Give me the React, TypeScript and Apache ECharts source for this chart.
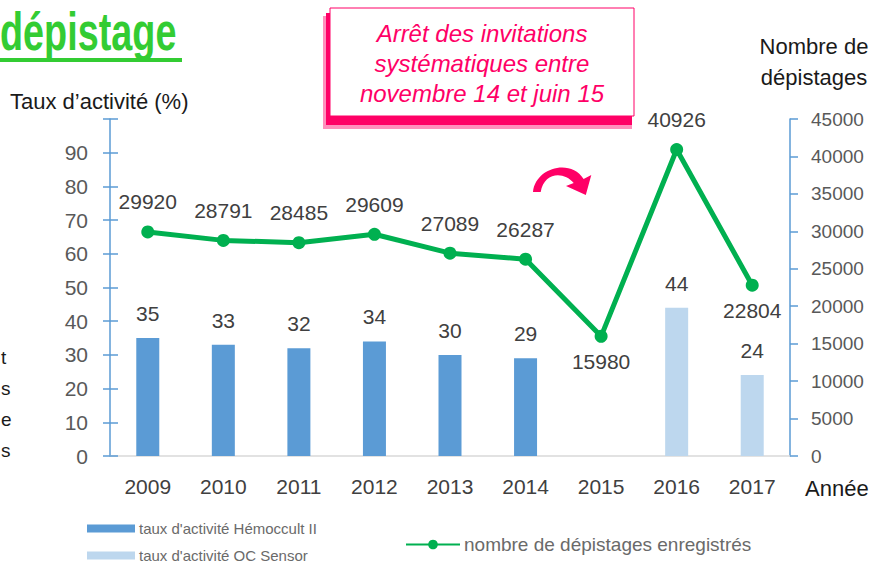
import React, { useEffect, useRef } from "react";
import * as echarts from "echarts";

const years = ["2009", "2010", "2011", "2012", "2013", "2014", "2015", "2016", "2017"];
const hemoccultRates = [35, 33, 32, 34, 30, 29, null, null, null];
const ocSensorRates = [null, null, null, null, null, null, null, 44, 24];
const screeningCounts = [29920, 28791, 28485, 29609, 27089, 26287, 15980, 40926, 22804];
const labelsBelow = ["2015", "2017"];

const seriesNames = ["taux d'activité Hémoccult II", "taux d'activité OC Sensor", "nombre de dépistages enregistrés"];

const leftTicks = { min: 0, max: 100, interval: 10 };
const rightTicks = { min: 0, max: 45000, interval: 5000 };

const arrowPath =
  "M0 30 C2 6 34 -4 46 17 L53 13 L48 33 L30 24 L37 21 C28 9 10 10 7 30 Z";

echarts.graphic.registerShape("curvedArrow", echarts.graphic.extendPath(arrowPath, {}) as any);

const FONT = "'Liberation Sans', Arial, sans-serif";

export default function App() {
  const ref = useRef<HTMLDivElement>(null);
  useEffect(() => {
    if (!ref.current) return;
    const chart = echarts.init(ref.current, null, { renderer: "svg" });
    const blue = "#5B9BD5";
    const txt = "#404040";
    const legendText = { color: "#6a6a6a", fontFamily: FONT, padding: [0, 0, 0, -1] };
    const valueLabel = { show: true, color: txt, fontSize: 21, fontFamily: FONT };
    const option: any = {
      animation: false,
      backgroundColor: "#ffffff",
      textStyle: { fontFamily: FONT },
      grid: { left: 110, right: 84, top: 119, bottom: 111, containLabel: false },
      legend: [
        {
          left: 87,
          top: 521,
          padding: 0,
          itemWidth: 48,
          itemHeight: 8,
          icon: "rect",
          data: [seriesNames[0]],
          textStyle: { ...legendText, fontSize: 15 },
        },
        {
          left: 87,
          top: 548,
          padding: 0,
          itemWidth: 48,
          itemHeight: 8,
          icon: "rect",
          data: [seriesNames[1]],
          textStyle: { ...legendText, fontSize: 15 },
        },
        {
          left: 405,
          top: 535,
          padding: 0,
          itemWidth: 54,
          itemHeight: 12,
          data: [seriesNames[2]],
          textStyle: { ...legendText, fontSize: 19 },
        },
      ],
      xAxis: {
        type: "category",
        data: years,
        axisLine: { show: true, lineStyle: { color: "#d9d9d9", width: 1.5 } },
        axisTick: { show: false },
        axisLabel: { color: txt, fontSize: 21, margin: 20, fontFamily: FONT },
      },
      yAxis: [
        {
          type: "value",
          position: "left",
          ...leftTicks,
          axisLine: { show: true, lineStyle: { color: blue, width: 1.5 } },
          axisTick: { show: true, length: 7, lineStyle: { color: blue, width: 1.5 } },
          splitLine: { show: false },
          axisLabel: {
            color: "#595959",
            fontSize: 21,
            margin: 22,
            fontFamily: FONT,
            formatter: (v: number) => (v === leftTicks.max ? "" : String(v)),
          },
        },
        {
          type: "value",
          position: "right",
          ...rightTicks,
          axisLine: { show: true, lineStyle: { color: blue, width: 1.5 } },
          axisTick: { show: true, length: 8, lineStyle: { color: blue, width: 1.5 } },
          splitLine: { show: false },
          axisLabel: {
            color: "#595959",
            fontSize: 19,
            margin: 21,
            fontFamily: FONT,
            formatter: (v: number) => String(v),
          },
        },
        {
          type: "value",
          position: "left",
          ...leftTicks,
          axisLine: { show: false },
          axisTick: { show: true, inside: true, length: 8, lineStyle: { color: blue, width: 1.5 } },
          splitLine: { show: false },
          axisLabel: { show: false },
        },
      ],
      series: [
        {
          name: seriesNames[0],
          type: "bar",
          stack: "rate",
          yAxisIndex: 0,
          barWidth: 23,
          data: hemoccultRates,
          itemStyle: { color: blue },
          label: { ...valueLabel, position: "top", distance: 14 },
        },
        {
          name: seriesNames[1],
          type: "bar",
          stack: "rate",
          yAxisIndex: 0,
          barWidth: 23,
          data: ocSensorRates,
          itemStyle: { color: "#BDD7EE" },
          label: { ...valueLabel, position: "top", distance: 14 },
        },
        {
          name: seriesNames[2],
          type: "line",
          yAxisIndex: 1,
          symbol: "circle",
          symbolSize: 13,
          lineStyle: { color: "#00B050", width: 5 },
          itemStyle: { color: "#00B050" },
          data: screeningCounts.map((v, i) =>
            labelsBelow.includes(years[i])
              ? { value: v, label: { position: "bottom", distance: 8 } }
              : { value: v }
          ),
          label: { ...valueLabel, position: "top", distance: 13 },
          z: 5,
        },
      ],
      graphic: [
        {
          type: "text",
          x: 0,
          y: 4,
          scaleX: 0.7,
          style: { text: "dépistage", font: "bold 54px 'Liberation Sans Narrow', 'Arial Narrow', sans-serif", fill: "#33CC33" },
        },
        { type: "rect", shape: { x: 0, y: 58, width: 182, height: 4 }, style: { fill: "#33CC33" } },
        { type: "rect", shape: { x: 323, y: 16, width: 309, height: 113 }, style: { fill: "#FF8FBC" } },
        { type: "rect", shape: { x: 326, y: 13, width: 306, height: 112 }, style: { fill: "#FF0066" } },
        {
          type: "rect",
          shape: { x: 330, y: 8, width: 304, height: 108 },
          style: { fill: "#ffffff", stroke: "#FF0066", lineWidth: 1 },
        },
        {
          type: "text",
          x: 482,
          y: 63,
          style: {
            text: "Arrêt des invitations\nsystématiques entre\nnovembre 14 et juin 15",
            font: `italic 24px ${FONT}`,
            fill: "#FF0066",
            align: "center",
            verticalAlign: "middle",
            lineHeight: 30,
          },
        },
        { type: "curvedArrow", x: 533, y: 162, scaleX: 1.1, style: { fill: "#FF0066" } },
        {
          type: "text",
          x: 10,
          y: 101,
          style: { text: "Taux d’activité (%)", font: `22px ${FONT}`, fill: "#1a1a1a", verticalAlign: "middle" },
        },
        {
          type: "text",
          x: 814,
          y: 62,
          style: {
            text: "Nombre de\ndépistages",
            font: `22px ${FONT}`,
            fill: "#1a1a1a",
            align: "center",
            verticalAlign: "middle",
            lineHeight: 31,
          },
        },
        {
          type: "text",
          x: 805,
          y: 488,
          style: { text: "Année", font: `22px ${FONT}`, fill: "#1a1a1a", verticalAlign: "middle" },
        },
        {
          type: "text",
          x: 1,
          y: 404,
          style: {
            text: "t\ns\ne\ns",
            font: `19px ${FONT}`,
            fill: "#1a1a1a",
            align: "left",
            verticalAlign: "middle",
            lineHeight: 31,
          },
        },
      ],
    };
    chart.setOption(option);
    return () => chart.dispose();
  }, []);
  return <div ref={ref} style={{ width: 874, height: 567, position: "absolute", left: 0, top: 0 }} />;
}
